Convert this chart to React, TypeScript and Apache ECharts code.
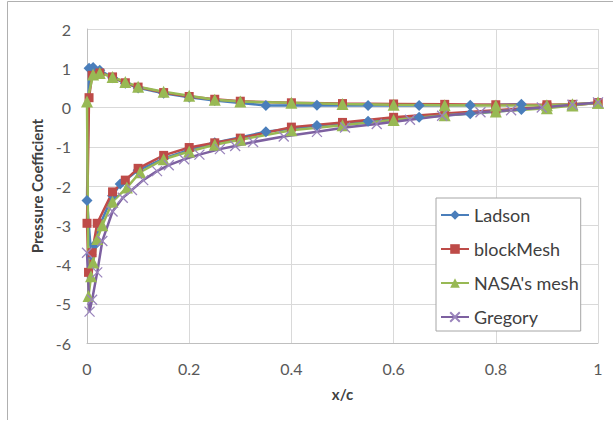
import React, { useEffect, useRef } from "react";
import * as echarts from "echarts";

// Ladson (experimental) – pressure side from TE to LE, then suction side to TE
const ladsonX = [0.85, 0.75, 0.65, 0.55, 0.45, 0.35, 0.25, 0.2, 0.15, 0.1, 0.075, 0.05, 0.025, 0.012, 0.004,
  0, 0.008, 0.015, 0.025, 0.05, 0.065, 0.1, 0.15, 0.2, 0.25, 0.35, 0.45, 0.55, 0.65, 0.75, 0.85];
const ladsonCp = [0.08, 0.06, 0.05, 0.05, 0.06, 0.05, 0.18, 0.26, 0.36, 0.5, 0.62, 0.76, 0.95, 1.02, 1.0,
  -2.37, -3.75, -3.5, -3.0, -2.25, -1.95, -1.6, -1.3, -1.08, -0.9, -0.62, -0.46, -0.35, -0.25, -0.16, -0.05];

// blockMesh (CFD)
const blockX = [1.0, 0.95, 0.9, 0.8, 0.7, 0.6, 0.5, 0.4, 0.3, 0.25, 0.2, 0.15, 0.1, 0.075, 0.05, 0.025, 0.01, 0.004,
  0, 0.003, 0.01, 0.02, 0.05, 0.075, 0.1, 0.15, 0.2, 0.25, 0.3, 0.4, 0.5, 0.6, 0.7, 0.8, 0.9, 0.95, 1.0];
const blockCp = [0.12, 0.08, 0.07, 0.07, 0.08, 0.09, 0.1, 0.12, 0.16, 0.21, 0.28, 0.38, 0.52, 0.63, 0.78, 0.88, 0.82, 0.25,
  -2.95, -4.2, -3.7, -2.95, -2.15, -1.85, -1.55, -1.22, -1.02, -0.9, -0.78, -0.5, -0.38, -0.25, -0.15, -0.07, 0.02, 0.06, 0.12];

// NASA's mesh (CFD)
const nasaX = [1.0, 0.95, 0.9, 0.8, 0.7, 0.6, 0.5, 0.4, 0.3, 0.25, 0.2, 0.15, 0.1, 0.075, 0.05, 0.025, 0.012, 0.0,
  0.003, 0.008, 0.012, 0.02, 0.03, 0.05, 0.078, 0.104, 0.15, 0.2, 0.25, 0.3, 0.4, 0.5, 0.6, 0.7, 0.8, 0.9, 0.95, 1.0];
const nasaCp = [0.12, 0.08, 0.06, 0.05, 0.06, 0.07, 0.09, 0.12, 0.15, 0.2, 0.3, 0.4, 0.53, 0.65, 0.78, 0.88, 0.84, 0.15,
  -4.8, -4.3, -3.95, -3.35, -3.0, -2.4, -2.04, -1.65, -1.32, -1.12, -0.95, -0.82, -0.58, -0.45, -0.32, -0.2, -0.1, -0.02, 0.05, 0.12];

// Gregory (experimental) – suction side only
const gregX = [0, 0.005, 0.01, 0.02, 0.03, 0.05, 0.07, 0.088, 0.11, 0.137, 0.16, 0.19, 0.22, 0.26, 0.29, 0.325, 0.385,
  0.45, 0.505, 0.567, 0.632, 0.695, 0.77, 0.83, 0.89, 0.95, 1.0];
const gregCp = [-3.7, -5.2, -4.9, -4.2, -3.4, -2.65, -2.3, -2.1, -1.85, -1.62, -1.47, -1.32, -1.2, -1.06, -0.98, -0.88, -0.74,
  -0.62, -0.51, -0.42, -0.31, -0.21, -0.12, -0.07, 0.0, 0.07, 0.13];

const xTicks = { min: 0, max: 1, interval: 0.2 };
const yTicks = { min: -6, max: 2, interval: 1 };

const zip = (xs: number[], ys: number[]) => xs.map((x, i) => [x, ys[i]]);

export default function App() {
  const ref = useRef<HTMLDivElement>(null);
  useEffect(() => {
    if (!ref.current) return;
    const chart = echarts.init(ref.current, null, { renderer: "svg" });
    const font = "Lato, 'Open Sans', sans-serif";
    const lineW = 2.5;
    chart.setOption({
      animation: false,
      backgroundColor: "#ffffff",
      textStyle: { fontFamily: font },
      grid: { left: 87, right: 15, top: 29, bottom: 80 },
      graphic: [
        { type: "line", shape: { x1: 7.5, y1: 1.5, x2: 613, y2: 1.5 }, style: { stroke: "#b0b0b0", lineWidth: 1 } },
        { type: "line", shape: { x1: 7.5, y1: 1.5, x2: 7.5, y2: 420 }, style: { stroke: "#b0b0b0", lineWidth: 1 } },
      ],
      legend: {
        orient: "vertical",
        left: 436,
        top: 198,
        itemWidth: 28,
        itemHeight: 12,
        itemGap: 16,
        padding: [8, 2, 5, 4],
        borderColor: "#a6a6a6",
        borderWidth: 1,
        backgroundColor: "#ffffff",
        textStyle: { fontFamily: font, fontSize: 18, color: "#404040" },
        data: ["Ladson", "blockMesh", "NASA's mesh", "Gregory"],
      },
      xAxis: {
        type: "value",
        min: xTicks.min,
        max: xTicks.max,
        interval: xTicks.interval,
        name: "x/c",
        nameLocation: "middle",
        nameGap: 43,
        nameTextStyle: { fontFamily: font, fontSize: 15, fontWeight: "bold", color: "#404040" },
        axisLine: { show: true, onZero: false, lineStyle: { color: "#bfbfbf" } },
        axisTick: { show: false },
        axisLabel: { margin: 17, fontSize: 16, color: "#595959", fontFamily: font },
        splitLine: { show: true, lineStyle: { color: "#d9d9d9", width: 1 } },
      },
      yAxis: {
        type: "value",
        min: yTicks.min,
        max: yTicks.max,
        interval: yTicks.interval,
        name: "Pressure Coefficient",
        nameLocation: "middle",
        nameGap: 43,
        nameRotate: 90,
        nameTextStyle: { fontFamily: font, fontSize: 15, fontWeight: "bold", color: "#404040" },
        axisLine: { show: true, lineStyle: { color: "#bfbfbf" } },
        axisTick: { show: false },
        axisLabel: { margin: 16, fontSize: 16, color: "#595959", fontFamily: font },
        splitLine: { show: true, lineStyle: { color: "#d9d9d9", width: 1 } },
      },
      series: [
        {
          name: "Ladson",
          type: "line",
          data: zip(ladsonX, ladsonCp),
          symbol: "diamond",
          symbolSize: 11,
          lineStyle: { color: "#4A7EBB", width: lineW },
          itemStyle: { color: "#4A7EBB" },
        },
        {
          name: "blockMesh",
          type: "line",
          data: zip(blockX, blockCp),
          symbol: "rect",
          symbolSize: 9,
          lineStyle: { color: "#BE4B48", width: lineW },
          itemStyle: { color: "#BE4B48" },
        },
        {
          name: "NASA's mesh",
          type: "line",
          data: zip(nasaX, nasaCp),
          symbol: "triangle",
          symbolSize: 12,
          lineStyle: { color: "#98B954", width: lineW },
          itemStyle: { color: "#98B954" },
        },
        {
          name: "Gregory",
          type: "line",
          data: zip(gregX, gregCp),
          symbol: "path://M0,0L10,10M10,0L0,10",
          symbolSize: 10,
          lineStyle: { color: "#7D60A0", width: lineW },
          itemStyle: { color: "none", borderColor: "#9A84BC", borderWidth: 1.3 },
        },
      ],
    });
    return () => chart.dispose();
  }, []);
  return (
    <div
      ref={ref}
      style={{ position: "fixed", left: 0, top: 0, width: 613, height: 423 }}
    />
  );
}
